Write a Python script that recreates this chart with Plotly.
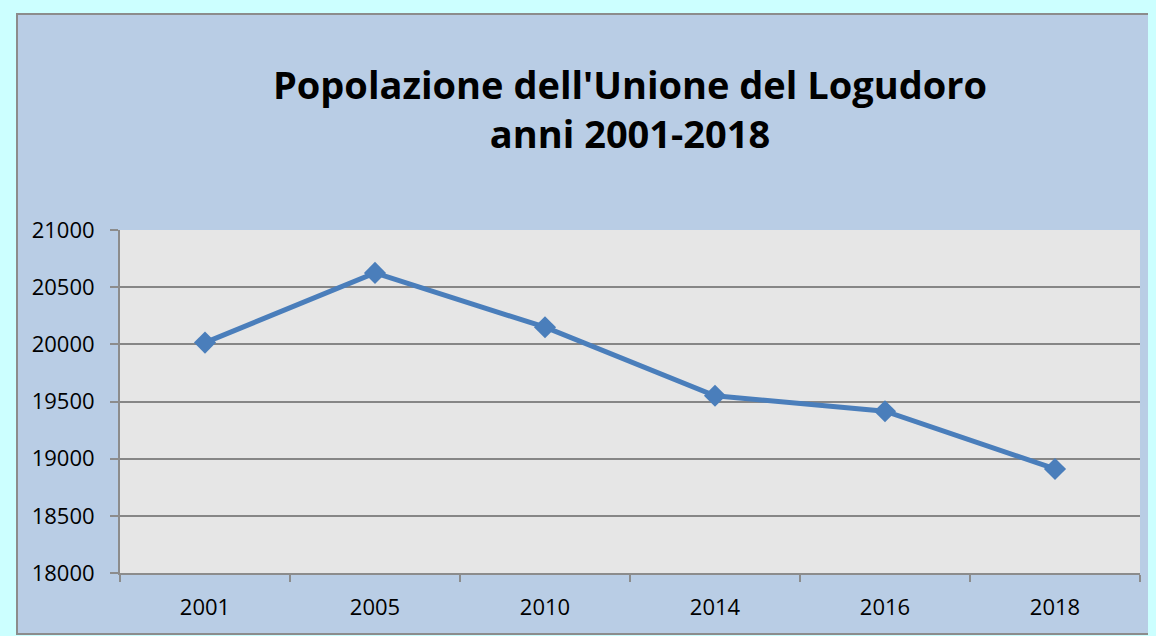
import plotly.graph_objects as go

years = ["2001", "2005", "2010", "2014", "2016", "2018"]
population = [20015, 20625, 20150, 19550, 19415, 18910]
y_ticks = [18000, 18500, 19000, 19500, 20000, 20500, 21000]
title_lines = ["Popolazione dell'Unione del Logudoro", "anni 2001-2018"]

W, H = 1148, 628
L, R, T, B = 112, 16, 222, 63
PW, PH = W - L - R, H - T - B


def px(x):
    return (x - L) / PW


def py(y):
    return (H - B - y) / PH


CYAN = "#CCFFFF"
BLUE = "#B9CDE5"

fig = go.Figure()
fig.add_trace(go.Scatter(
    x=years, y=population, mode="lines+markers",
    line=dict(color="#4A7EBB", width=5),
    marker=dict(symbol="diamond", size=17, color="#4A7EBB"),
    showlegend=False, hoverinfo="x+y",
))

bx0, bx1, by0, by1 = 9, 1142, 6, 626
shapes = [
    dict(type="rect", xref="paper", yref="paper", layer="below", line=dict(width=0),
         fillcolor=CYAN, x0=px(0), x1=px(bx0), y0=py(H), y1=py(0)),
    dict(type="rect", xref="paper", yref="paper", layer="below", line=dict(width=0),
         fillcolor=CYAN, x0=px(0), x1=px(W), y0=py(by0), y1=py(0)),
    dict(type="rect", xref="paper", yref="paper", layer="below", line=dict(width=0),
         fillcolor=CYAN, x0=px(bx1), x1=px(W), y0=py(H), y1=py(0)),
    dict(type="rect", xref="paper", yref="paper", layer="below", line=dict(width=0),
         fillcolor=CYAN, x0=px(0), x1=px(W), y0=py(H), y1=py(by1)),
    dict(type="rect", xref="paper", yref="paper", layer="above",
         line=dict(color="#8C8C8C", width=2), fillcolor="rgba(0,0,0,0)",
         x0=px(bx0), x1=px(bx1), y0=py(by1), y1=py(by0)),
]

fig.update_layout(
    width=W, height=H,
    margin=dict(l=L, r=R, t=T, b=B, autoexpand=False),
    paper_bgcolor=BLUE,
    plot_bgcolor="#E6E6E6",
    font=dict(family="Open Sans, Liberation Sans, sans-serif", size=22, color="#000000"),
    title=dict(
        text="<b>" + title_lines[0] + "<br>" + title_lines[1] + "</b>",
        x=622 / W, xanchor="center", y=1 - 91 / H, yanchor="middle",
        font=dict(size=38, family="Open Sans, Liberation Sans, sans-serif", color="#000000"),
    ),
    shapes=shapes,
    xaxis=dict(
        type="category", tickson="boundaries", ticks="outside", ticklen=7,
        tickcolor="#8C8C8C", tickwidth=2,
        showline=True, linecolor="#8C8C8C", linewidth=2,
        showgrid=False, tickfont=dict(size=22), ticklabelstandoff=14,
        range=[-0.5, 5.5],
    ),
    yaxis=dict(
        range=[18000, 21000], tickvals=y_ticks, tickformat="d", ticks="outside", ticklen=8,
        tickcolor="#8C8C8C", tickwidth=2,
        showline=True, linecolor="#8C8C8C", linewidth=2,
        showgrid=True, gridcolor="#868686", gridwidth=2,
        zeroline=False, tickfont=dict(size=22), ticklabelstandoff=11,
    ),
)

fig.write_html("out.html", post_script="document.body.style.background = '#CCFFFF';")
